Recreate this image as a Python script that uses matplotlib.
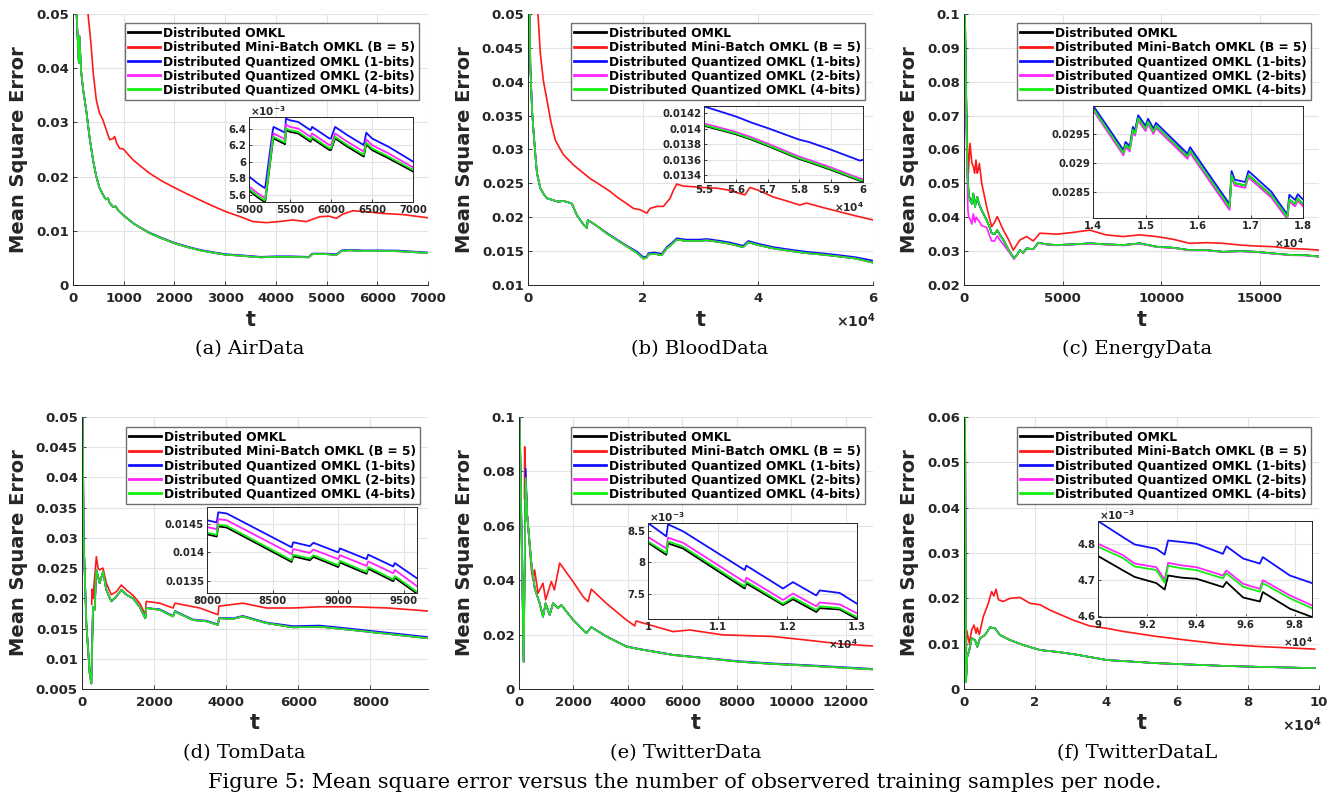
import numpy as np
import matplotlib
matplotlib.use("Agg")
import matplotlib.pyplot as plt
from matplotlib.ticker import FuncFormatter

W, H = 1330, 797

labels = ["Distributed OMKL",
          "Distributed Mini-Batch OMKL (B = 5)",
          "Distributed Quantized OMKL (1-bits)",
          "Distributed Quantized OMKL (2-bits)",
          "Distributed Quantized OMKL (4-bits)"]
colors = ["#000000", "#ff1a1a", "#1010ff", "#ff22ff", "#11ee11"]
captions = ["(a) AirData", "(b) BloodData", "(c) EnergyData",
            "(d) TomData", "(e) TwitterData", "(f) TwitterDataL"]

# ---------------- (a) AirData ----------------
a_t = [70, 100, 115, 125, 160, 200, 260, 330, 400, 460, 520, 600, 650, 690, 720, 790, 840, 900,
       990, 1200, 1500, 1750, 2000, 2250, 2500, 2800, 3000, 3300, 3700, 4000, 4300, 4650, 4720,
       5000, 5190, 5300, 5450, 5750, 6050, 6430, 7000]
a_green = [0.0500, 0.0440, 0.0410, 0.0460, 0.0395, 0.0360, 0.0323, 0.0270, 0.0228, 0.0200, 0.0180,
           0.0165, 0.0158, 0.0160, 0.0152, 0.0144, 0.0145, 0.0137, 0.0129, 0.0113, 0.0096, 0.0086,
           0.0077, 0.0070, 0.0064, 0.0059, 0.0056, 0.0054, 0.0051, 0.0052, 0.0052, 0.0051, 0.0057,
           0.0057, 0.00553, 0.0063, 0.0064, 0.00626, 0.0063, 0.00622, 0.0059]
a_blue = [0.0500, 0.0440, 0.0410, 0.0460, 0.0395, 0.0360, 0.0323, 0.0270, 0.0228, 0.0200, 0.0180,
          0.0165, 0.0158, 0.0160, 0.0152, 0.0144, 0.0145, 0.0137, 0.0129, 0.0113, 0.0097, 0.0087,
          0.0078, 0.0071, 0.0065, 0.0060, 0.0057, 0.0055, 0.0052, 0.0053, 0.0053, 0.0052, 0.0058,
          0.0058, 0.00568, 0.0064, 0.0065, 0.00638, 0.0064, 0.00635, 0.0060]
a_t_red = [296, 350, 400, 460, 520, 592, 660, 723, 790, 822, 860, 920, 990, 1183, 1350, 1512, 1750,
           1972, 2250, 2498, 2750, 3023, 3300, 3549, 3812, 4050, 4338, 4600, 4864, 5050, 5192, 5324,
           5521, 5800, 6113, 6500, 7000]
a_red = [0.0500, 0.0450, 0.0390, 0.0341, 0.0318, 0.0304, 0.0285, 0.0268, 0.0270, 0.0274, 0.0262,
         0.0252, 0.0251, 0.0231, 0.0218, 0.0206, 0.0192, 0.0181, 0.0168, 0.0157, 0.0146, 0.0135,
         0.0126, 0.0117, 0.0115, 0.0117, 0.0120, 0.0117, 0.0126, 0.0127, 0.0123, 0.0131, 0.0137,
         0.0135, 0.0132, 0.0130, 0.0124]
a_in_t = [5000, 5100, 5190, 5200, 5290, 5300, 5440, 5450, 5500, 5600, 5750, 5770, 5980, 6000, 6050,
          6200, 6400, 6430, 6500, 6700, 7000]
a_in_blue = [5.82, 5.74, 5.68, 5.70, 6.38, 6.42, 6.35, 6.52, 6.50, 6.48, 6.38, 6.42, 6.28, 6.28, 6.42,
             6.32, 6.20, 6.35, 6.28, 6.18, 6.00]
a_in_mag = [5.70, 5.62, 5.56, 5.58, 6.30, 6.34, 6.27, 6.45, 6.42, 6.40, 6.30, 6.34, 6.20, 6.20, 6.34,
            6.24, 6.12, 6.27, 6.20, 6.10, 5.93]
a_in_green = [5.67, 5.59, 5.53, 5.55, 6.26, 6.30, 6.23, 6.40, 6.38, 6.36, 6.26, 6.30, 6.16, 6.16, 6.30,
              6.20, 6.08, 6.23, 6.16, 6.06, 5.90]
a_in_black = [5.65, 5.57, 5.51, 5.53, 6.24, 6.28, 6.21, 6.38, 6.36, 6.34, 6.24, 6.28, 6.14, 6.14, 6.28,
              6.18, 6.06, 6.21, 6.14, 6.04, 5.88]

# ---------------- (b) BloodData ----------------
b_t = [290, 400, 700, 984, 1300, 1562, 2140, 2800, 3300, 4455, 5200, 6190, 7000, 7637, 8505, 9662,
       10240, 10400, 12000, 13712, 15500, 17184, 19000, 20077, 20600, 20945, 22000, 23260, 24128,
       25000, 25864, 27500, 29914, 31000, 32808, 35000, 36859, 37438, 38300, 40000, 42642, 45000,
       48428, 51000, 54214, 57000, 60000]
b_green = [0.0500, 0.0425, 0.0358, 0.0324, 0.0290, 0.0265, 0.0243, 0.0233, 0.0228, 0.0225, 0.0223,
           0.0224, 0.0222, 0.0220, 0.0203, 0.0189, 0.0184, 0.0196, 0.0187, 0.0176, 0.0166, 0.0157,
           0.0147, 0.0139, 0.0140, 0.0145, 0.0146, 0.0144, 0.0154, 0.0160, 0.0167, 0.0165, 0.0165,
           0.0166, 0.0164, 0.0161, 0.0157, 0.0156, 0.0163, 0.0159, 0.0154, 0.0151, 0.0147, 0.0145,
           0.0142, 0.0139, 0.0133]
b_blue = [0.0500, 0.0425, 0.0358, 0.0324, 0.0290, 0.0265, 0.0243, 0.0233, 0.0228, 0.0225, 0.0223,
          0.0224, 0.0222, 0.0220, 0.0203, 0.0189, 0.0184, 0.0196, 0.0187, 0.0177, 0.0167, 0.0158,
          0.0149, 0.0141, 0.0142, 0.0147, 0.0148, 0.0146, 0.0156, 0.0162, 0.0169, 0.0167, 0.0167,
          0.0168, 0.0166, 0.0163, 0.0159, 0.0158, 0.0165, 0.0161, 0.0156, 0.0153, 0.0149, 0.0147,
          0.0144, 0.0141, 0.0136]
b_t_red = [1736, 2140, 2700, 3300, 4000, 4744, 5500, 6190, 7926, 10818, 12500, 14290, 15447, 17000,
           18340, 19500, 20656, 21235, 22392, 23550, 24707, 25300, 25864, 27000, 28757, 30000, 32808,
           35000, 36859, 37728, 38600, 40000, 42642, 45000, 47271, 48428, 51000, 54214, 57000, 60000]
b_red = [0.0500, 0.0442, 0.0400, 0.0373, 0.0340, 0.0314, 0.0302, 0.0292, 0.0277, 0.0257, 0.0248,
         0.0238, 0.0230, 0.0221, 0.0213, 0.0211, 0.0206, 0.0213, 0.0216, 0.0216, 0.0228, 0.0240,
         0.0249, 0.0246, 0.0245, 0.0244, 0.0243, 0.0240, 0.0235, 0.0233, 0.0244, 0.0240, 0.0230,
         0.0224, 0.0218, 0.0221, 0.0215, 0.0208, 0.0202, 0.0196]
b_in_t = [55000, 56000, 56500, 57000, 58000, 58300, 59000, 59900, 60000]
b_in_blue = [0.01429, 0.01416, 0.01408, 0.01401, 0.01386, 0.01383, 0.01373, 0.01359, 0.01360]
b_in_mag = [0.01407, 0.01396, 0.01389, 0.01381, 0.01364, 0.01360, 0.01350, 0.01336, 0.01335]
b_in_green = [0.01405, 0.01394, 0.01387, 0.01379, 0.01362, 0.01358, 0.01348, 0.01334, 0.01333]
b_in_black = [0.01404, 0.01393, 0.01386, 0.01378, 0.01361, 0.01357, 0.01347, 0.01333, 0.01332]

# ---------------- (c) EnergyData ----------------
c_t = [50, 150, 200, 240, 300, 400, 470, 557, 620, 675, 750, 900, 1148, 1300, 1401, 1550, 1689, 1850,
       1993, 2250, 2533, 2700, 2837, 3000, 3175, 3512, 3766, 4200, 4693, 5500, 6383, 7200, 8071, 8915,
       9760, 10600, 11448, 12300, 13137, 14000, 14825, 15700, 16514, 17300, 18000]
c_green = [0.1000, 0.0600, 0.0500, 0.0470, 0.0451, 0.0440, 0.0470, 0.0431, 0.0450, 0.0460, 0.0441,
           0.0420, 0.0392, 0.0370, 0.0353, 0.0350, 0.0362, 0.0345, 0.0333, 0.0305, 0.0279, 0.0290,
           0.0303, 0.0295, 0.0308, 0.0306, 0.0325, 0.0320, 0.0318, 0.0320, 0.0323, 0.0320, 0.0318,
           0.0323, 0.0313, 0.0310, 0.0303, 0.0303, 0.0298, 0.0300, 0.0298, 0.0293, 0.0289, 0.0288,
           0.0284]
c_mag = [0.0900, 0.0550, 0.0420, 0.0400, 0.0395, 0.0380, 0.0410, 0.0385, 0.0400, 0.0395, 0.0390,
         0.0375, 0.0370, 0.0345, 0.0330, 0.0330, 0.0345, 0.0330, 0.0320, 0.0300, 0.0276, 0.0289,
         0.0302, 0.0294, 0.0307, 0.0305, 0.0324, 0.0319, 0.0317, 0.0319, 0.0322, 0.0319, 0.0317,
         0.0322, 0.0312, 0.0309, 0.0302, 0.0302, 0.0297, 0.0299, 0.0297, 0.0292, 0.0288, 0.0287,
         0.0283]
c_t_red = [50, 150, 219, 304, 400, 473, 540, 608, 670, 726, 777, 900, 1148, 1401, 1550, 1689, 1993,
           2250, 2499, 2837, 3175, 3512, 3850, 4693, 5500, 6383, 7200, 8071, 8915, 9760, 10600, 11448,
           12300, 13137, 14000, 14825, 15700, 16514, 17300, 18000]
c_red = [0.0943, 0.0650, 0.0530, 0.0618, 0.0560, 0.0550, 0.0530, 0.0569, 0.0530, 0.0540, 0.0559,
         0.0500, 0.0431, 0.0372, 0.0385, 0.0402, 0.0362, 0.0335, 0.0303, 0.0333, 0.0343, 0.0330,
         0.0353, 0.0350, 0.0355, 0.0362, 0.0348, 0.0343, 0.0348, 0.0343, 0.0335, 0.0323, 0.0325,
         0.0323, 0.0318, 0.0315, 0.0313, 0.0308, 0.0306, 0.0303]
c_in_t = [14000, 14580, 14620, 14700, 14760, 14800, 14860, 15000, 15050, 15150, 15200, 15800, 15850,
          16600, 16640, 16700, 16900, 16960, 17400, 17700, 17740, 17850, 17900, 18000]
c_in_green = [0.02995, 0.02918, 0.02932, 0.02925, 0.02958, 0.02952, 0.02978, 0.02960, 0.02972,
              0.02955, 0.02965, 0.02912, 0.02922, 0.02825, 0.02880, 0.02866, 0.02862, 0.02880,
              0.02845, 0.02808, 0.02838, 0.02830, 0.02840, 0.02830]
c_in_blue = [0.03000, 0.02923, 0.02937, 0.02930, 0.02963, 0.02957, 0.02983, 0.02965, 0.02977,
             0.02960, 0.02970, 0.02917, 0.02928, 0.02830, 0.02887, 0.02872, 0.02868, 0.02887,
             0.02851, 0.02812, 0.02846, 0.02837, 0.02847, 0.02838]
c_in_mag = [0.02992, 0.02914, 0.02928, 0.02921, 0.02954, 0.02948, 0.02974, 0.02956, 0.02968,
            0.02951, 0.02961, 0.02908, 0.02918, 0.02820, 0.02876, 0.02862, 0.02858, 0.02876,
            0.02841, 0.02804, 0.02834, 0.02826, 0.02836, 0.02826]
c_in_black = c_in_green

# ---------------- (d) TomData ----------------
d_t = [20, 46, 120, 213, 259, 305, 350, 398, 445, 490, 583, 675, 814, 952, 1091, 1230, 1415, 1600,
       1757, 1780, 2155, 2525, 2580, 3080, 3450, 3773, 3800, 4190, 4460, 5113, 5854, 6594, 7426,
       8350, 9600]
d_green = [0.0500, 0.0297, 0.0159, 0.0076, 0.0059, 0.0186, 0.0181, 0.0247, 0.0236, 0.0225, 0.0244,
           0.0214, 0.0195, 0.0203, 0.0214, 0.0206, 0.0200, 0.0186, 0.0167, 0.0184, 0.0181, 0.0170,
           0.0178, 0.0164, 0.0162, 0.0156, 0.0167, 0.0166, 0.0170, 0.0159, 0.0152, 0.0153, 0.0148,
           0.0142, 0.0134]
d_blue = [0.0500, 0.0297, 0.0159, 0.0076, 0.0059, 0.0186, 0.0181, 0.0247, 0.0236, 0.0225, 0.0244,
          0.0214, 0.0195, 0.0203, 0.0214, 0.0206, 0.0200, 0.0186, 0.0167, 0.0184, 0.0182, 0.0171,
          0.0179, 0.0165, 0.0163, 0.0157, 0.0168, 0.0167, 0.0171, 0.0160, 0.0154, 0.0155, 0.0150,
          0.0144, 0.0136]
d_t_red = [270, 280, 305, 398, 445, 490, 583, 675, 814, 952, 1091, 1230, 1415, 1600, 1757, 1780, 2155,
           2525, 2580, 3265, 3773, 3800, 4460, 5113, 5854, 6594, 7500, 8500, 9600]
d_red = [0.0190, 0.0215, 0.0200, 0.0269, 0.0250, 0.0247, 0.0250, 0.0225, 0.0206, 0.0211, 0.0222,
         0.0214, 0.0205, 0.0192, 0.0173, 0.0195, 0.0192, 0.0184, 0.0192, 0.0184, 0.0173, 0.0187,
         0.0192, 0.0184, 0.0184, 0.0186, 0.0186, 0.0184, 0.0179]
d_in_t = [8000, 8074, 8086, 8150, 8645, 8657, 8784, 8810, 9000, 9013, 9216, 9228, 9419, 9431, 9600]
d_in_green = [0.01435, 0.01431, 0.01449, 0.01447, 0.01386, 0.01396, 0.01389, 0.01395, 0.01377,
              0.01385, 0.01365, 0.01374, 0.01352, 0.01358, 0.01330]
d_in_blue = [0.01457, 0.01453, 0.01471, 0.01469, 0.01409, 0.01418, 0.01411, 0.01417, 0.01400,
             0.01407, 0.01388, 0.01396, 0.01375, 0.01381, 0.01354]
d_in_mag = [0.01445, 0.01441, 0.01459, 0.01457, 0.01397, 0.01406, 0.01399, 0.01405, 0.01388,
            0.01395, 0.01376, 0.01384, 0.01363, 0.01369, 0.01340]
d_in_black = [0.01432, 0.01428, 0.01446, 0.01444, 0.01383, 0.01393, 0.01386, 0.01392, 0.01374,
              0.01382, 0.01362, 0.01371, 0.01349, 0.01355, 0.01327]

# ---------------- (e) TwitterData ----------------
e_t = [24, 171, 245, 300, 453, 575, 759, 881, 979, 1126, 1249, 1432, 1555, 1983, 2473, 2656, 3207,
       3941, 4431, 5655, 6879, 8104, 9328, 10552, 11776, 13000]
e_green = [0.1000, 0.0100, 0.0775, 0.0640, 0.0463, 0.0371, 0.0315, 0.0266, 0.0315, 0.0272, 0.0315,
           0.0297, 0.0309, 0.0254, 0.0205, 0.0227, 0.0193, 0.0156, 0.0146, 0.0125, 0.0113, 0.0100,
           0.0092, 0.0086, 0.0079, 0.0072]
e_blue = [0.1000, 0.0100, 0.0810, 0.0640, 0.0463, 0.0371, 0.0315, 0.0266, 0.0315, 0.0272, 0.0315,
          0.0297, 0.0309, 0.0255, 0.0206, 0.0228, 0.0194, 0.0157, 0.0147, 0.0126, 0.0114, 0.0102,
          0.0094, 0.0088, 0.0081, 0.0074]
e_t_red = [200, 208, 245, 300, 453, 514, 575, 698, 881, 979, 1187, 1300, 1493, 1983, 2350, 2534, 2656,
           3207, 3941, 4248, 4300, 5655, 6267, 7492, 9328, 10552, 11776, 13000]
e_red = [0.0700, 0.0890, 0.0775, 0.0640, 0.0440, 0.0401, 0.0438, 0.0352, 0.0389, 0.0328, 0.0395,
         0.0364, 0.0463, 0.0395, 0.0340, 0.0321, 0.0367, 0.0315, 0.0254, 0.0232, 0.0250, 0.0211,
         0.0217, 0.0199, 0.0193, 0.0180, 0.0166, 0.0158]
e_in_t = [10000, 10263, 10287, 10502, 11388, 11411, 11938, 12081, 12416, 12464, 12751, 13000]
e_in_blue = [8.62, 8.41, 8.60, 8.49, 7.88, 7.95, 7.59, 7.69, 7.48, 7.56, 7.52, 7.35]
e_in_mag = [8.40, 8.22, 8.39, 8.31, 7.69, 7.76, 7.41, 7.51, 7.31, 7.37, 7.34, 7.20]
e_in_green = [8.33, 8.15, 8.33, 8.25, 7.62, 7.70, 7.35, 7.45, 7.25, 7.31, 7.28, 7.14]
e_in_black = [8.31, 8.12, 8.30, 8.22, 7.59, 7.67, 7.33, 7.42, 7.22, 7.28, 7.26, 7.11]

# ---------------- (f) TwitterDataL ----------------
f_t = [300, 563, 900, 1500, 2158, 3096, 3752, 4503, 5910, 7317, 8724, 10131, 12946, 16698, 21388,
       26079, 30769, 40150, 54221, 72983, 82364, 98780]
f_green = [0.0600, 0.0016, 0.0071, 0.0086, 0.0112, 0.0108, 0.0093, 0.0112, 0.0119, 0.0136, 0.0134,
           0.0119, 0.0108, 0.0097, 0.0086, 0.0082, 0.0077, 0.0064, 0.0057, 0.0051, 0.0049, 0.0046]
f_t_red = [563, 750, 1500, 2158, 2814, 3400, 3752, 4300, 5441, 6848, 7786, 8400, 9006, 9700, 11069,
           12946, 15760, 18574, 21388, 24203, 30769, 35460, 40150, 44841, 54221, 63602, 72983, 82364,
           98780]
f_red = [0.0050, 0.0130, 0.0101, 0.0130, 0.0141, 0.0123, 0.0135, 0.0120, 0.0160, 0.0189, 0.0215,
         0.0205, 0.0220, 0.0197, 0.0193, 0.0200, 0.0202, 0.0189, 0.0186, 0.0174, 0.0152, 0.0139,
         0.0134, 0.0127, 0.0116, 0.0107, 0.0099, 0.0094, 0.0088]
f_in_t = [90000, 91020, 91490, 92370, 92710, 92850, 93400, 94000, 95080, 95220, 95900, 96580, 96700,
          97800, 98700]
f_in_blue = [4.863, 4.818, 4.798, 4.786, 4.770, 4.809, 4.805, 4.800, 4.772, 4.793, 4.759, 4.745,
             4.763, 4.712, 4.691]
f_in_mag = [4.800, 4.768, 4.745, 4.735, 4.700, 4.747, 4.740, 4.735, 4.712, 4.726, 4.689, 4.675,
            4.699, 4.657, 4.629]
f_in_green = [4.792, 4.760, 4.737, 4.727, 4.692, 4.739, 4.732, 4.727, 4.704, 4.718, 4.681, 4.667,
              4.691, 4.649, 4.621]
f_in_black = [4.766, 4.726, 4.708, 4.691, 4.673, 4.712, 4.706, 4.703, 4.680, 4.694, 4.651, 4.640,
              4.666, 4.620, 4.597]

TXT = "#262626"
plt.rcParams["font.family"] = ["DejaVu Sans"]
plt.rcParams["font.weight"] = "bold"

fig = plt.figure(figsize=(W / 100, H / 100), dpi=100)


def add_ax(box):
    l, t, r, b = box
    return fig.add_axes([l / W, 1 - b / H, (r - l) / W, (b - t) / H])


def style(ax, xlim, ylim, xticks, yticks, xs, ys, fs, box):
    ax.set_xlim(*xlim)
    ax.set_ylim(*ylim)
    ax.set_xticks(np.round(xticks, 8))
    ax.set_yticks(np.round(yticks, 8))
    ax.xaxis.set_major_formatter(FuncFormatter(lambda v, p: f"{v / xs:g}"))
    ax.yaxis.set_major_formatter(FuncFormatter(lambda v, p: f"{v / ys:g}"))
    ax.grid(True, color="#e3e3e3", lw=0.8)
    ax.set_axisbelow(True)
    ax.tick_params(direction="in", length=3, width=0.6, colors=TXT, labelsize=fs, pad=3)
    ax.tick_params(axis="x", pad=5 if not box else 2)
    for s in ax.spines.values():
        s.set_color(TXT)
        s.set_linewidth(0.7)
    if not box:
        ax.spines["top"].set_visible(False)
        ax.spines["right"].set_visible(False)


def panel(box, xlim, ylim, xticks, yticks, xs, t, black, blue, mag, green, t_red, red,
          legend_corner, ylab_x, xlab_y):
    ax = add_ax(box)
    ax.plot(t, black, color=colors[0], lw=1.2, label=labels[0])
    ax.plot(t_red, red, color=colors[1], lw=1.2, label=labels[1])
    ax.plot(t, blue, color=colors[2], lw=1.2, label=labels[2])
    ax.plot(t, mag, color=colors[3], lw=1.2, label=labels[3])
    ax.plot(t, green, color=colors[4], lw=1.2, label=labels[4])
    style(ax, xlim, ylim, xticks, yticks, xs, 1, 9.5, False)
    ax.set_ylabel("Mean Square Error", fontsize=14, fontweight="bold", color=TXT)
    ax.set_xlabel("t", fontsize=15, fontweight="bold", color=TXT)
    l, tp, r, b = box
    ax.yaxis.set_label_coords((ylab_x - l) / (r - l), 0.5)
    ax.xaxis.set_label_coords(0.5, (b - xlab_y) / (b - tp))
    leg = ax.legend(loc="upper right", bbox_to_anchor=(legend_corner[0] / W, 1 - legend_corner[1] / H),
                    bbox_transform=fig.transFigure, borderaxespad=0, fancybox=False,
                    prop={"size": 8.8, "weight": "bold"}, handlelength=2.6, handletextpad=0.25,
                    labelspacing=0.1, borderpad=0.3, framealpha=1)
    leg.get_frame().set_edgecolor("#707070")
    leg.get_frame().set_linewidth(1.0)
    for h in leg.get_lines():
        h.set_linewidth(2.0)
    if xs != 1:
        fig.text((r + 2) / W, 1 - (b + 36) / H, r"$\times\mathbf{10^{4}}$", ha="right", va="center",
                 fontsize=10, color=TXT)
    return ax


def inset(box, xlim, ylim, xticks, yticks, xs, ys, t, black, blue, mag, green, scale=1.0):
    ax = add_ax(box)
    for vals, c in zip([black, blue, mag, green], [colors[0], colors[2], colors[3], colors[4]]):
        ax.plot(t, np.array(vals) * scale, color=c, lw=1.3)
    style(ax, xlim, ylim, xticks, yticks, xs, ys, 7.3, True)
    ax.tick_params(length=2, pad=2)
    l, tp, r, b = box
    if ys != 1:
        fig.text((l + 1) / W, 1 - (tp - 6) / H, r"$\times\mathbf{10^{-3}}$", ha="left", va="center",
                 fontsize=7.5, color=TXT)
    if xs != 1:
        fig.text((r + 1) / W, 1 - (b + 25) / H, r"$\times\mathbf{10^{4}}$", ha="right", va="center",
                 fontsize=7.5, color=TXT)
    return ax


# (a)
panel((73, 14, 428, 285), (0, 7000), (0, 0.05), np.arange(0, 7001, 1000), np.arange(0, 0.0501, 0.01), 1,
      a_t, a_green, a_blue, a_green, a_green, a_t_red, a_red, (419, 23), 28, 310)
inset((249, 117, 413, 202), (5000, 7000), (5.51e-3, 6.54e-3), np.arange(5000, 7001, 500),
      np.arange(5.6e-3, 6.41e-3, 0.2e-3), 1, 1e-3, a_in_t, a_in_black, a_in_blue, a_in_mag, a_in_green, 1e-3)
# (b)
panel((528, 14, 873, 285), (0, 60000), (0.01, 0.05), np.arange(0, 60001, 20000),
      np.arange(0.01, 0.0501, 0.005), 1e4,
      b_t, b_green, b_blue, b_green, b_green, b_t_red, b_red, (865, 23), 474, 310)
inset((704, 106, 863, 182), (55000, 60000), (0.013314, 0.014295), np.arange(55000, 60001, 1000),
      np.arange(0.0134, 0.01421, 0.0002), 1e4, 1, b_in_t, b_in_black, b_in_blue, b_in_mag, b_in_green)
# (c)
panel((964, 14, 1319, 285), (0, 18000), (0.02, 0.1), np.arange(0, 15001, 5000),
      np.arange(0.02, 0.1001, 0.01), 1,
      c_t, c_green, c_green, c_mag, c_green, c_t_red, c_red, (1311, 23), 919, 310)
inset((1093, 106, 1303, 218), (14000, 18000), (0.02806, 0.02999), np.arange(14000, 18001, 1000),
      [0.0285, 0.029, 0.0295], 1e4, 1, c_in_t, c_in_black, c_in_blue, c_in_mag, c_in_green)
# (d)
panel((82, 417, 428, 689), (0, 9600), (0.005, 0.05), np.arange(0, 8001, 2000),
      np.arange(0.005, 0.0501, 0.005), 1,
      d_t, d_green, d_blue, d_green, d_green, d_t_red, d_red, (420, 427), 28, 713)
inset((207, 507, 417, 593), (8000, 9600), (0.01328, 0.014804), np.arange(8000, 9501, 500),
      [0.0135, 0.014, 0.0145], 1, 1, d_in_t, d_in_black, d_in_blue, d_in_mag, d_in_green)
# (e)
panel((519, 417, 873, 689), (0, 13000), (0, 0.1), np.arange(0, 12001, 2000), np.arange(0, 0.1001, 0.02), 1,
      e_t, e_green, e_blue, e_green, e_green, e_t_red, e_red, (865, 427), 474, 713)
inset((648, 523, 857, 619), (10000, 13000), (7.11e-3, 8.62e-3), np.arange(10000, 13001, 1000),
      [7.5e-3, 8e-3, 8.5e-3], 1e4, 1e-3, e_in_t, e_in_black, e_in_blue, e_in_mag, e_in_green, 1e-3)
# (f)
panel((964, 417, 1319, 689), (0, 100000), (0, 0.06), np.arange(0, 100001, 20000),
      np.arange(0, 0.0601, 0.01), 1e4,
      f_t, f_green, f_green, f_green, f_green, f_t_red, f_red, (1311, 427), 919, 713)
inset((1098, 521, 1312, 617), (90000, 98700), (4.597e-3, 4.863e-3), np.arange(90000, 98001, 2000),
      [4.6e-3, 4.7e-3, 4.8e-3], 1e4, 1e-3, f_in_t, f_in_black, f_in_blue, f_in_mag, f_in_green, 1e-3)

# captions (serif, wide like the stretched original)
cap_pos = [(250, 354), (700, 354), (1137, 354), (244, 758), (686, 758), (1137, 758)]
for (x, y), c in zip(cap_pos, captions):
    fig.text(x / W, 1 - y / H, c, ha="center", va="baseline", fontsize=14,
             family="DejaVu Serif", fontweight="normal", color="black")
fig.text(685 / W, 1 - 788 / H,
         "Figure 5: Mean square error versus the number of observered training samples per node.",
         ha="center", va="baseline", fontsize=15, family="DejaVu Serif", fontweight="normal",
         color="black")

fig.savefig("out.png", dpi=100)
